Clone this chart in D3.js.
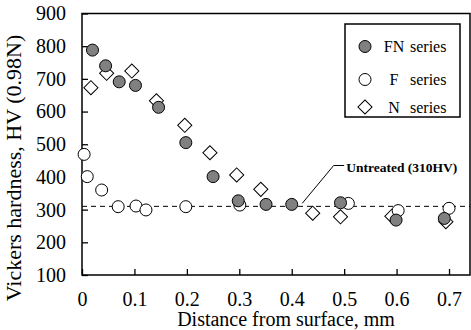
<!DOCTYPE html>
<html>
<head>
<meta charset="utf-8">
<script src="https://cdn.jsdelivr.net/npm/d3@7"></script>
<style>
  body { margin: 0; background: #fff; }
  svg { display: block; }
</style>
</head>
<body>
<svg width="471" height="330"></svg>
<script>
// Distance from surface (mm) / Vickers hardness for each series
const fnDist = [0.02, 0.045, 0.071, 0.102, 0.146, 0.198, 0.25, 0.298, 0.351, 0.4, 0.493, 0.599, 0.691];
const fnHv = [788, 740, 691, 680, 613, 505, 401, 327, 316, 316, 321, 268, 273];
const fDist = [0.004, 0.01, 0.0375, 0.069, 0.103, 0.122, 0.198, 0.301, 0.508, 0.603, 0.7];
const fHv = [469, 401, 360, 309, 311, 299, 309, 314, 319, 297, 304];
const nDist = [0.017, 0.047, 0.095, 0.142, 0.196, 0.244, 0.295, 0.341, 0.44, 0.493, 0.591, 0.694];
const nHv = [673, 717, 724, 633, 558, 474, 406, 362, 289, 278, 280, 263];
const untreated = 310;
const xTicks = [0, 0.1, 0.2, 0.3, 0.4, 0.5, 0.6, 0.7];
const yTicks = [100, 200, 300, 400, 500, 600, 700, 800, 900];
const legendNames = ['FN', 'F', 'N'];

const serif = '"Liberation Serif", "Times New Roman", serif';
const svg = d3.select('svg').style('font-family', serif);
const plotLeft = 82, plotRight = 470, plotTop = 13.5, plotBottom = 275;

const x = d3.scaleLinear().domain([0, 0.74]).range([plotLeft, plotRight]);
const y = d3.scaleLinear().domain([100, 900]).range([plotBottom, plotTop]);

// axes with inward ticks
const yAxis = svg.append('g')
	.attr('transform', `translate(${plotLeft},0)`)
	.call(d3.axisLeft(y).tickValues(yTicks).tickSize(-6).tickSizeOuter(0).tickPadding(16).tickFormat(d3.format('d')));
const xAxis = svg.append('g')
	.attr('transform', `translate(0,${plotBottom})`)
	.call(d3.axisBottom(x).tickValues(xTicks).tickSize(-6).tickSizeOuter(0).tickPadding(17).tickFormat((d) => (d === 0 ? '0' : d3.format('.1f')(d))));
[xAxis, yAxis].forEach((a) => {
	a.attr('font-family', serif);
	a.select('.domain').remove();
	a.selectAll('line').attr('stroke', '#000').attr('stroke-width', 1.3);
	a.selectAll('text').attr('font-size', 20).attr('fill', '#000').style('font-family', serif);
});

// plot frame
svg.append('rect')
	.attr('x', plotLeft).attr('y', plotTop)
	.attr('width', plotRight - plotLeft).attr('height', plotBottom - plotTop)
	.attr('fill', 'none').attr('stroke', '#000').attr('stroke-width', 1.5);

// untreated reference line
svg.append('line')
	.attr('x1', plotLeft).attr('x2', plotRight)
	.attr('y1', y(untreated)).attr('y2', y(untreated))
	.attr('stroke', '#000').attr('stroke-width', 1)
	.attr('stroke-dasharray', '5,4');

const diamond = d3.symbol().type(d3.symbolSquare).size(100);

// N series (diamonds)
svg.append('g').selectAll('path')
	.data(nDist.map((d, i) => [d, nHv[i]]))
	.join('path')
	.attr('d', diamond)
	.attr('transform', (d) => `translate(${x(d[0])},${y(d[1])}) rotate(45)`)
	.attr('fill', '#fff').attr('stroke', '#000').attr('stroke-width', 1);

// F series (open circles)
svg.append('g').selectAll('circle')
	.data(fDist.map((d, i) => [d, fHv[i]]))
	.join('circle')
	.attr('cx', (d) => x(d[0])).attr('cy', (d) => y(d[1])).attr('r', 6)
	.attr('fill', '#fff').attr('stroke', '#000').attr('stroke-width', 1);

// FN series (grey circles)
svg.append('g').selectAll('circle')
	.data(fnDist.map((d, i) => [d, fnHv[i]]))
	.join('circle')
	.attr('cx', (d) => x(d[0])).attr('cy', (d) => y(d[1])).attr('r', 6)
	.attr('fill', '#808080').attr('stroke', '#000').attr('stroke-width', 1);

// annotation
svg.append('path')
	.attr('d', d3.line()([[x(0.42), y(untreated) - 3], [x(0.48), y(435)], [x(0.5), y(435)]]))
	.attr('fill', 'none').attr('stroke', '#000').attr('stroke-width', 1);
svg.append('text')
	.attr('x', x(0.5) + 2).attr('y', y(415))
	.attr('font-size', 13.5).attr('font-weight', 'bold')
	.text(`Untreated (${untreated}HV)`);

// axis titles
svg.append('text')
	.attr('x', (plotLeft + plotRight) / 2 + 10).attr('y', 326)
	.attr('text-anchor', 'middle').attr('font-size', 20)
	.text('Distance from surface, mm');
svg.append('text')
	.attr('transform', 'translate(21,168) rotate(-90)')
	.attr('text-anchor', 'middle').attr('font-size', 22)
	.text('Vickers hardness, HV (0.98N)');

// legend
const lg = svg.append('g');
lg.append('rect')
	.attr('x', 345).attr('y', 24).attr('width', 115).attr('height', 93)
	.attr('fill', '#fff').attr('stroke', '#000').attr('stroke-width', 1.5);
const rowY = [46.5, 79.5, 107];
legendNames.forEach((name, i) => {
	if (name === 'N') {
		lg.append('path').attr('d', diamond)
			.attr('transform', `translate(365,${rowY[i]}) rotate(45)`)
			.attr('fill', '#fff').attr('stroke', '#000');
	} else {
		lg.append('circle').attr('cx', 365).attr('cy', rowY[i]).attr('r', 6)
			.attr('fill', name === 'FN' ? '#808080' : '#fff').attr('stroke', '#000');
	}
	lg.append('text').attr('x', 394).attr('y', rowY[i] + 5.5)
		.attr('text-anchor', 'middle').attr('font-size', 16).text(name);
	lg.append('text').attr('x', 410).attr('y', rowY[i] + 5.5)
		.attr('font-size', 16).text('series');
});
</script>
</body>
</html>
